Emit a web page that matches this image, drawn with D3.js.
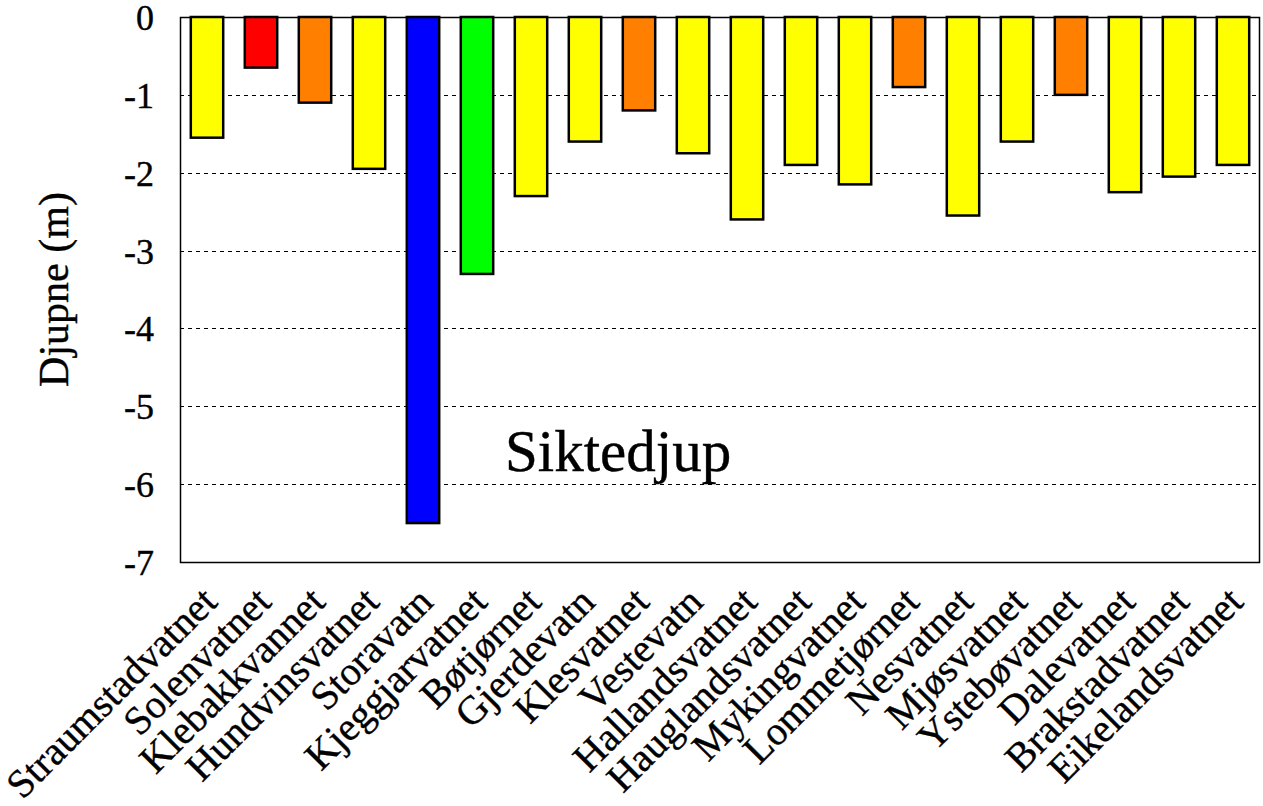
<!DOCTYPE html>
<html>
<head>
<meta charset="utf-8">
<script src="https://cdn.jsdelivr.net/npm/d3@7"></script>
<style>
  body { margin: 0; background: #fff; }
  svg { display: block; }
  svg text { font-family: 'Liberation Serif', serif; fill: #000; stroke: #000; stroke-width: 0.4px; }
</style>
</head>
<body>
<div class="chart"></div>
<script>
const lakes = ['Straumstadvatnet','Solenvatnet','Klebakkvannet','Hundvinsvatnet','Storavatn',
  'Kjeggjarvatnet','Bøtjørnet','Gjerdevatn','Klesvatnet','Vestevatn','Hallandsvatnet',
  'Hauglandsvatnet','Mykingvatnet','Lommetjørnet','Nesvatnet','Mjøsvatnet','Ystebøvatnet',
  'Dalevatnet','Brakstadvatnet','Eikelandsvatnet'];
const depth = [-1.55,-0.65,-1.1,-1.95,-6.5,-3.3,-2.3,-1.6,-1.2,-1.75,-2.6,-1.9,-2.15,-0.9,-2.55,-1.6,-1.0,-2.25,-2.05,-1.9];
const klasse = ['y','r','o','y','b','g','y','y','o','y','y','y','y','o','y','y','o','y','y','y'];
const yTicks = [0,-1,-2,-3,-4,-5,-6,-7];
const colours = {y:'#ffff00', r:'#ff0000', o:'#ff8000', b:'#0000ff', g:'#00ff00'};

const width = 1263, height = 806;
const m = {left: 180, right: 3, top: 17, bottom: 244};

const svg = d3.select('.chart').append('svg')
  .attr('width', width)
  .attr('height', height);

const x = d3.scaleBand()
  .domain(lakes)
  .range([m.left, width - m.right])
  .paddingInner(0.4)
  .paddingOuter(0.2);

const y = d3.scaleLinear()
  .domain([0, -7])
  .range([m.top, height - m.bottom]);

// dashed gridlines
svg.append('g')
  .selectAll('line')
  .data(yTicks.filter(d => d !== 0 && d !== -7))
  .enter().append('line')
    .attr('x1', m.left).attr('x2', width - m.right)
    .attr('y1', d => Math.round(y(d)) + 0.5).attr('y2', d => Math.round(y(d)) + 0.5)
    .attr('stroke', '#000')
    .attr('stroke-width', 1)
    .attr('stroke-dasharray', '4,4');

// plot frame
svg.append('rect')
  .attr('x', m.left + 0.5).attr('y', m.top + 0.5)
  .attr('width', width - m.right - m.left - 1)
  .attr('height', y(-7) - m.top)
  .attr('fill', 'none')
  .attr('stroke', '#000')
  .attr('stroke-width', 1.5);

// bars
svg.append('g')
  .selectAll('rect')
  .data(lakes)
  .enter().append('rect')
    .attr('x', d => x(d))
    .attr('y', y(0))
    .attr('width', x.bandwidth())
    .attr('height', (d, i) => y(depth[i]) - y(0))
    .attr('fill', (d, i) => colours[klasse[i]])
    .attr('stroke', '#000')
    .attr('stroke-width', 2.5);

// y axis labels
const yAxis = d3.axisLeft(y).tickValues(yTicks).tickSize(0).tickPadding(0);
svg.append('g')
  .attr('transform', `translate(${m.left - 26},1)`)
  .call(yAxis)
  .call(g => g.select('.domain').remove())
  .selectAll('text')
    .attr('font-size', 36)
    .text(d => d === 0 ? '0' : '-' + Math.abs(d));

// lake names
svg.append('g')
  .selectAll('text')
  .data(lakes)
  .enter().append('text')
    .attr('transform', d => `translate(${x(d) + x.bandwidth() / 2 + 12},604) rotate(-45)`)
    .attr('text-anchor', 'end')
    .attr('font-size', 40)
    .text(d => d);

// y axis title
svg.append('text')
  .attr('transform', `translate(68,${(m.top + y(-7)) / 2}) rotate(-90)`)
  .attr('text-anchor', 'middle')
  .attr('font-size', 42)
  .text('Djupne (m)');

svg.append('text')
  .attr('x', 505)
  .attr('y', 471)
  .attr('font-size', 59)
  .text('Siktedjup');
</script>
</body>
</html>
